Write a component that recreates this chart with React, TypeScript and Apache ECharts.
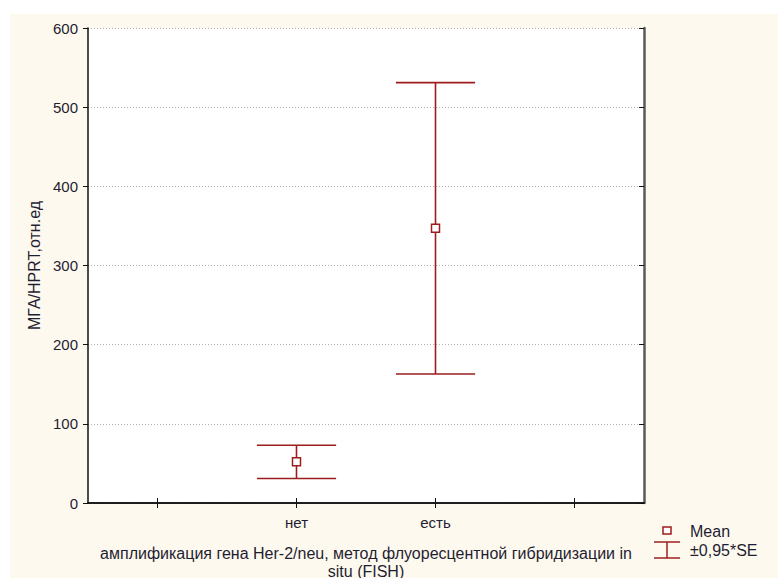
import React, { useEffect, useRef } from "react";
import * as echarts from "echarts";

// Groups on the category axis (empty slots pad both sides)
const categories = ["", "нет", "есть", ""];
// Group means
const means = [null, 52, 347, null];
// ±0.95*SE limits
const lowerLimits = [null, 31, 163, null];
const upperLimits = [null, 73, 531, null];

const yTicks = [0, 100, 200, 300, 400, 500, 600];

const DARK_RED = "#9e1c1c";
const TEXT = "#1e1e32";
const FONT = "Liberation Sans, Arial, sans-serif";

export default function App() {
  const ref = useRef<HTMLDivElement>(null);

  useEffect(() => {
    if (!ref.current) return;
    const chart = echarts.init(ref.current, null, { renderer: "svg" });

    const errorData = categories
      .map((c, i) => [i, lowerLimits[i], upperLimits[i]])
      .filter((d) => d[1] != null);
    const meanData = categories
      .map((c, i) => [i, means[i]])
      .filter((d) => d[1] != null);

    const tickText = { color: TEXT, fontFamily: FONT, fontSize: 15 };
    const nameText = { color: TEXT, fontFamily: FONT, fontSize: 16 };

    chart.setOption({
      animation: false,
      backgroundColor: "#ffffff",
      textStyle: { fontFamily: FONT },
      grid: {
        left: 88,
        top: 28,
        right: 135,
        bottom: 75,
        show: true,
        backgroundColor: "#ffffff",
        borderWidth: 0,
        containLabel: false,
        outerBoundsMode: "none",
      },
      graphic: [
        {
          type: "rect",
          z: -10,
          silent: true,
          shape: { x: 10, y: 14, width: 768, height: 564 },
          style: { fill: "#fef9ef" },
        },
        {
          type: "rect",
          z: -9,
          silent: true,
          shape: { x: 88, y: 28, width: 556, height: 475 },
          style: { fill: "#ffffff" },
        },
        // legend: mean marker
        {
          type: "rect",
          shape: { x: 663, y: 527, width: 8, height: 7 },
          style: { fill: "#ffffff", stroke: DARK_RED, lineWidth: 1.5 },
        },
        {
          type: "text",
          x: 690,
          y: 531,
          style: {
            text: "Mean",
            fill: TEXT,
            font: `16px ${FONT}`,
            verticalAlign: "middle",
          },
        },
        // legend: error bar glyph
        {
          type: "line",
          shape: { x1: 654, y1: 542, x2: 680, y2: 542 },
          style: { stroke: DARK_RED, lineWidth: 1.5 },
        },
        {
          type: "line",
          shape: { x1: 667, y1: 542, x2: 667, y2: 558 },
          style: { stroke: DARK_RED, lineWidth: 1.5 },
        },
        {
          type: "line",
          shape: { x1: 654, y1: 558, x2: 680, y2: 558 },
          style: { stroke: DARK_RED, lineWidth: 1.5 },
        },
        {
          type: "text",
          x: 690,
          y: 550,
          style: {
            text: "±0,95*SE",
            fill: TEXT,
            font: `16px ${FONT}`,
            verticalAlign: "middle",
          },
        },
      ],
      xAxis: [
        {
          type: "category",
          data: categories,
          position: "bottom",
          boundaryGap: true,
          name: "амплификация гена Her-2/neu, метод флуоресцентной гибридизации in\nsitu (FISH)",
          nameLocation: "middle",
          nameGap: 41,
          nameTextStyle: { ...nameText, lineHeight: 18, verticalAlign: "top" },
          axisLine: { show: true, lineStyle: { color: "#111", width: 1.5 } },
          axisTick: { show: true, alignWithLabel: true, inside: true, length: 5, lineStyle: { color: "#111" } },
          axisLabel: { ...tickText, margin: 12, interval: 0 },
          splitLine: { show: false },
        },
        {
          type: "category",
          data: categories,
          position: "top",
          boundaryGap: true,
          axisLine: { show: true, lineStyle: { color: "#111", width: 1.5 } },
          axisTick: { show: true, alignWithLabel: true, inside: true, length: 5, lineStyle: { color: "#111" } },
          axisLabel: { show: false },
          splitLine: { show: false },
        },
      ],
      yAxis: [
        {
          type: "value",
          min: 0,
          max: 600,
          interval: 100,
          position: "left",
          name: "МГА/HPRT,отн.ед",
          nameLocation: "middle",
          nameRotate: 90,
          nameGap: 44,
          nameTextStyle: nameText,
          axisLine: { show: true, lineStyle: { color: "#111", width: 1.5 } },
          axisTick: { show: true, inside: false, length: 5, lineStyle: { color: "#111" } },
          axisLabel: {
            ...tickText,
            margin: 10,
            formatter: (v: number) => (yTicks.includes(v) ? String(v) : ""),
          },
          splitLine: {
            show: true,
            lineStyle: { color: "#b4b4b4", type: [1, 2], width: 1 },
          },
        },
        {
          type: "value",
          min: 0,
          max: 600,
          interval: 100,
          position: "right",
          axisLine: { show: true, lineStyle: { color: "#5a5a5a", width: 2.5 } },
          axisTick: { show: true, inside: true, length: 5, lineStyle: { color: "#111" } },
          axisLabel: { show: false },
          splitLine: { show: false },
        },
      ],
      series: [
        {
          type: "custom",
          name: "±0,95*SE",
          xAxisIndex: 0,
          yAxisIndex: 0,
          data: errorData,
          encode: { x: 0, y: [1, 2] },
          renderItem: (params: any, api: any) => {
            const x = api.value(0);
            const lo = api.coord([x, api.value(1)]);
            const hi = api.coord([x, api.value(2)]);
            const half = (api.size([1, 0])[0] * 0.57) / 2;
            const style = { stroke: DARK_RED, lineWidth: 1.6 };
            return {
              type: "group",
              children: [
                { type: "line", shape: { x1: lo[0], y1: lo[1], x2: hi[0], y2: hi[1] }, style },
                { type: "line", shape: { x1: hi[0] - half, y1: hi[1], x2: hi[0] + half, y2: hi[1] }, style },
                { type: "line", shape: { x1: lo[0] - half, y1: lo[1], x2: lo[0] + half, y2: lo[1] }, style },
              ],
            };
          },
          z: 2,
        },
        {
          type: "scatter",
          name: "Mean",
          xAxisIndex: 0,
          yAxisIndex: 0,
          data: meanData,
          symbol: "rect",
          symbolSize: 8,
          itemStyle: { color: "#ffffff", borderColor: DARK_RED, borderWidth: 1.5, opacity: 1 },
          z: 3,
        },
      ],
    });

    return () => chart.dispose();
  }, []);

  return (
    <div
      ref={ref}
      style={{ position: "fixed", left: 0, top: 0, width: 779, height: 578 }}
    />
  );
}
